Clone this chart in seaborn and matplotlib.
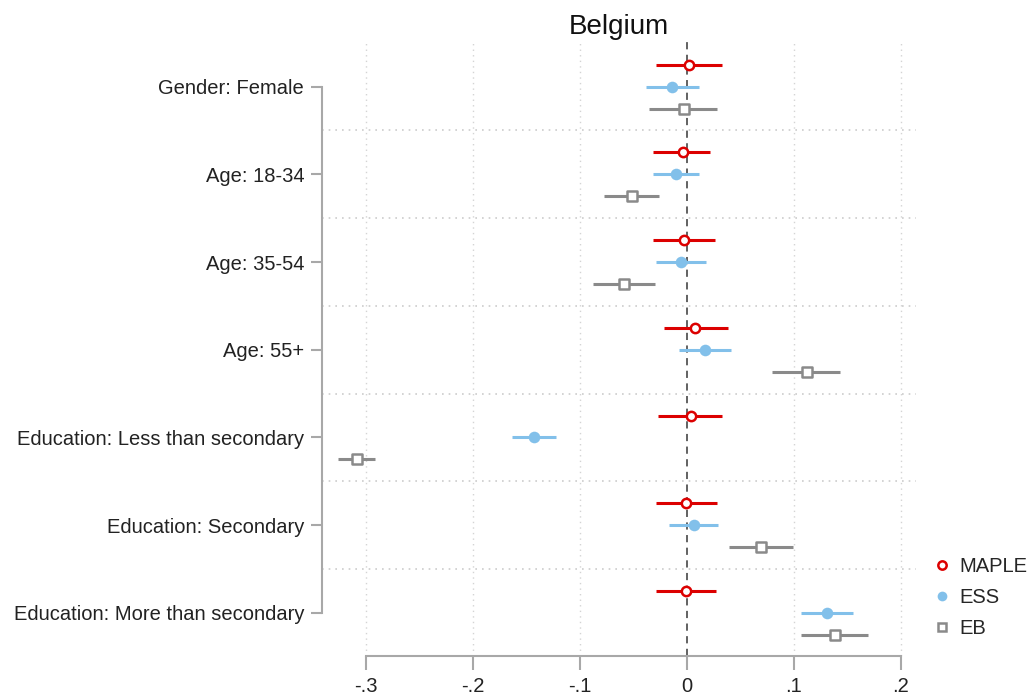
import numpy as np
import pandas as pd
import matplotlib
matplotlib.use("Agg")
import matplotlib.pyplot as plt
import seaborn as sns
from matplotlib.lines import Line2D

# Covariate labels, top to bottom
categories = [
    "Gender: Female",
    "Age: 18-34",
    "Age: 35-54",
    "Age: 55+",
    "Education: Less than secondary",
    "Education: Secondary",
    "Education: More than secondary",
]
sources = ["MAPLE", "ESS", "EB"]

# Point estimates and 95% confidence bounds per source
maple_est = [0.002, -0.004, -0.003, 0.008, 0.004, -0.001, -0.001]
maple_lo = [-0.029, -0.032, -0.032, -0.021, -0.027, -0.029, -0.029]
maple_hi = [0.033, 0.022, 0.026, 0.038, 0.033, 0.028, 0.027]

ess_est = [-0.014, -0.010, -0.006, 0.017, -0.143, 0.007, 0.131]
ess_lo = [-0.038, -0.032, -0.029, -0.007, -0.164, -0.017, 0.107]
ess_hi = [0.011, 0.011, 0.018, 0.041, -0.122, 0.029, 0.155]

eb_est = [-0.003, -0.051, -0.059, 0.112, -0.308, 0.069, 0.138]
eb_lo = [-0.035, -0.078, -0.088, 0.080, -0.326, 0.039, 0.107]
eb_hi = [0.028, -0.026, -0.030, 0.143, -0.292, 0.099, 0.169]

xticks = [-0.3, -0.2, -0.1, 0.0, 0.1, 0.2]
xtick_labels = ["-.3", "-.2", "-.1", "0", ".1", ".2"]

colors = {"MAPLE": "#dc0000", "ESS": "#82c0ea", "EB": "#8a8a8a"}
offsets = {"MAPLE": -0.25, "ESS": 0.0, "EB": 0.25}

rows = []
for src, est, lo, hi in [("MAPLE", maple_est, maple_lo, maple_hi),
                         ("ESS", ess_est, ess_lo, ess_hi),
                         ("EB", eb_est, eb_lo, eb_hi)]:
    for i, cat in enumerate(categories):
        rows.append({"source": src, "category": cat, "pos": i + offsets[src],
                     "est": est[i], "lo": lo[i], "hi": hi[i]})
df = pd.DataFrame(rows)

sns.set_theme(style="white")
plt.rcParams["font.family"] = ["Liberation Sans", "DejaVu Sans"]

fig = plt.figure(figsize=(10.36, 6.97), dpi=100)
ax = fig.add_axes([0.311, 0.059, 0.573, 0.884])

# Grid: vertical dotted lines at ticks, horizontal separators between groups
for xv in xticks:
    if xv != 0:
        ax.axvline(xv, color="#d4d4d4", lw=1.0, ls=(0, (1, 3)), zorder=0)
for k in range(len(categories) - 1):
    ax.axhline(k + 0.5, color="#cccccc", lw=1.2, ls=(0, (1, 3)), zorder=0)
ax.axvline(0, color="#555555", lw=1.3, ls=(0, (4, 3)), zorder=1)

# Confidence intervals
for src in sources:
    d = df[df.source == src]
    ax.hlines(d["pos"], d["lo"], d["hi"], color=colors[src], lw=2.2, zorder=2)

# Point estimates
d = df[df.source == "MAPLE"]
sns.scatterplot(data=d, x="est", y="pos", ax=ax, marker="o", s=45,
                facecolor="white", edgecolor=colors["MAPLE"], linewidth=1.8,
                zorder=3, legend=False)
d = df[df.source == "ESS"]
sns.scatterplot(data=d, x="est", y="pos", ax=ax, marker="o", s=70,
                color=colors["ESS"], edgecolor=colors["ESS"], linewidth=0,
                zorder=3, legend=False)
d = df[df.source == "EB"]
sns.scatterplot(data=d, x="est", y="pos", ax=ax, marker="s", s=45,
                facecolor="white", edgecolor=colors["EB"], linewidth=1.8,
                zorder=3, legend=False)

ax.set_xlim(-0.341, 0.214)
ax.set_ylim(len(categories) - 1 + 0.49, -0.534)
ax.set_xticks(xticks)
ax.set_xticklabels(xtick_labels, fontsize=14.5, color="#222222")
ax.set_yticks(range(len(categories)))
ax.set_yticklabels(categories, fontsize=14.5, color="#222222")
ax.set_xlabel("")
ax.set_ylabel("")
ax.grid(False)

for side in ["top", "right"]:
    ax.spines[side].set_visible(False)
ax.spines["left"].set_bounds(0, len(categories) - 1)
ax.spines["bottom"].set_bounds(-0.3, 0.2)
for side in ["left", "bottom"]:
    ax.spines[side].set_color("#a8a8a8")
    ax.spines[side].set_linewidth(1.5)
ax.tick_params(axis="y", length=8, width=1.5, color="#a8a8a8", pad=5, left=True)
ax.tick_params(axis="x", length=10, width=1.5, color="#a8a8a8", pad=5, bottom=True)

ax.set_title("Belgium", fontsize=20, color="#111111", pad=4)

handles = [
    Line2D([], [], ls="none", marker="o", ms=6, mfc="white", mec=colors["MAPLE"], mew=1.8),
    Line2D([], [], ls="none", marker="o", ms=7, mfc=colors["ESS"], mec=colors["ESS"], mew=0),
    Line2D([], [], ls="none", marker="s", ms=6, mfc="white", mec=colors["EB"], mew=1.8),
]
fig.legend(handles, sources, loc="upper left", bbox_to_anchor=(0.890, 0.212),
           frameon=False, fontsize=14.5, handletextpad=0.25, labelspacing=0.6,
           handlelength=1.2, borderaxespad=0)

fig.savefig("out.png", dpi=100)
